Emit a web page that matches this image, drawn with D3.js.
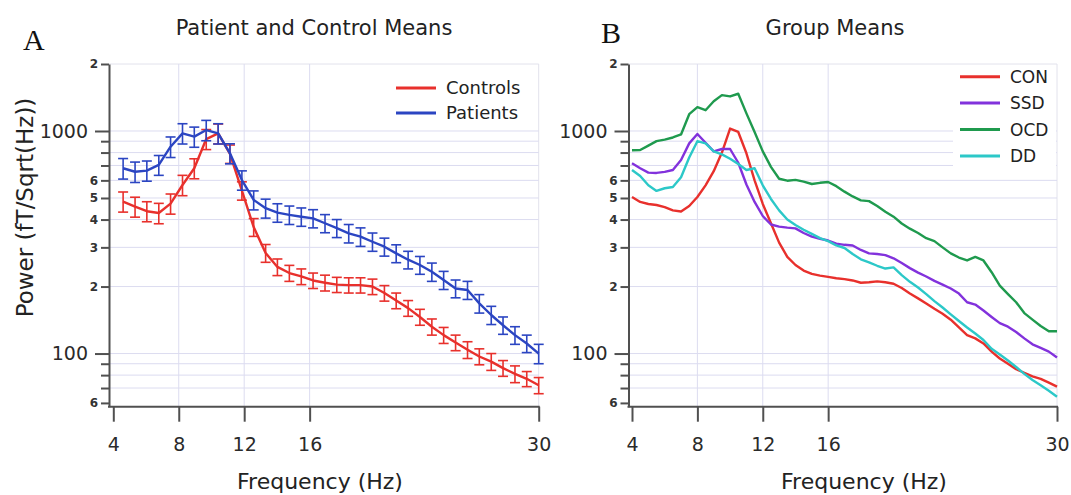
<!DOCTYPE html>
<html>
<head>
<meta charset="utf-8">
<script src="https://cdn.jsdelivr.net/npm/d3@7"></script>
<style>
body { margin: 0; background: #fff; }
svg { display: block; font-family: "DejaVu Sans", sans-serif; }
</style>
</head>
<body>
<svg id="chart" width="1071" height="495"></svg>
<script>
// ---- panel A : patient and control means (with SEM bars)
var freqA = [4.6, 5.33, 6.05, 6.78, 7.5, 8.23, 8.95, 9.68, 10.41, 11.13, 11.86, 12.58,
	13.31, 14.03, 14.76, 15.49, 16.21, 16.94, 17.66, 18.39, 19.11, 19.84, 20.57, 21.29,
	22.02, 22.74, 23.47, 24.19, 24.92, 25.65, 26.37, 27.1, 27.82, 28.55, 29.27, 30.0];
var controlsMean = [482, 457, 436, 428, 472, 572, 680, 920, 975, 790, 540, 370,
	283, 245, 230, 222, 213, 208, 204, 203, 203, 200, 187, 173,
	160, 146, 132, 121, 112, 104, 97, 92, 86, 81, 77, 72];
var controlsErr = [50, 47, 45, 45, 49, 60, 70, 95, 100, 75, 51, 34,
	26, 21, 19, 18, 17, 17, 16, 16, 16, 16, 15, 14,
	13, 12, 11, 10, 9, 9, 8, 8, 7, 7, 6, 6];
var patientsMean = [680, 656, 664, 704, 850, 976, 943, 1010, 976, 794, 602, 490,
	450, 430, 420, 412, 405, 385, 366, 347, 335, 318, 302, 282,
	264, 250, 233, 214, 196, 193, 168, 149, 134, 121, 111, 100];
var patientsErr = [72, 69, 69, 72, 90, 102, 98, 106, 102, 82, 60, 48,
	44, 41, 40, 39, 38, 36, 34, 33, 32, 30, 28, 26,
	24, 23, 22, 20, 18, 18, 16, 14, 12, 11, 10, 10];

// ---- panel B : group means
var freqB = [4, 4.5, 5, 5.5, 6, 6.5, 7, 7.5, 8, 8.5, 9, 9.5, 10, 10.5, 11, 11.5, 12, 12.5,
	13, 13.5, 14, 14.5, 15, 15.5, 16, 16.5, 17, 17.5, 18, 18.5, 19, 19.5, 20, 20.5, 21, 21.5,
	22, 22.5, 23, 23.5, 24, 24.5, 25, 25.5, 26, 26.5, 27, 27.5, 28, 28.5, 29, 29.5, 30];
var conMean = [505, 480, 470, 465, 455, 440, 435, 460, 505, 570, 660, 800, 1025, 990, 794, 600, 470, 385,
	315, 272, 250, 236, 228, 224, 221, 218, 216, 213, 208, 209, 211, 209, 206, 197, 186, 177,
	168, 159, 151, 142, 131, 121, 117, 111, 102, 95, 90, 85, 82, 79, 77, 74, 71];
var ssdMean = [716, 680, 650, 648, 655, 668, 740, 880, 970, 885, 810, 830, 830, 720, 575, 480, 415, 380,
	372, 368, 365, 348, 335, 328, 322, 312, 308, 306, 292, 282, 280, 277, 268, 255, 242, 231,
	222, 212, 204, 196, 186, 170, 166, 156, 146, 137, 132, 125, 117, 110, 106, 102, 96];
var ocdMean = [820, 822, 860, 900, 915, 935, 965, 1190, 1280, 1240, 1360, 1450, 1430, 1470, 1200, 990, 810, 690,
	610, 598, 603, 592, 578, 585, 590, 565, 534, 508, 488, 484, 460, 434, 412, 384, 364, 348,
	330, 320, 300, 282, 270, 262, 272, 262, 232, 202, 185, 170, 152, 142, 133, 126, 126];
var ddMean = [668, 628, 570, 538, 553, 560, 620, 760, 900, 880, 810, 785, 750, 710, 668, 680, 570, 495,
	440, 400, 378, 360, 345, 330, 320, 306, 298, 280, 265, 257, 248, 241, 244, 225, 210, 198,
	185, 172, 161, 150, 140, 131, 123, 115, 105, 99, 93, 87, 81, 76, 72, 68, 64];

// ---- axes
var xTicks = [4, 8, 12, 16, 30];
var xGridTicks = [8, 12, 16];
var yMajorTicks = [100, 1000];
var yMinorTicks = [60, 70, 80, 90, 200, 300, 400, 500, 600, 700, 800, 900, 2000];
var yMinorText = ["6", "", "", "", "2", "3", "4", "5", "6", "", "", "", "2"];
var yGridTicks = [70, 80, 90, 100, 200, 300, 400, 500, 600, 700, 800, 900, 1000];

var svg = d3.select("#chart");
var plotTop = 64, plotBottom = 406.7;
var axisColor = "#505050";

var y = d3.scaleLog().domain([57.7, 2000]).range([plotBottom, plotTop]);

function drawPanel(p) {
	var x = d3.scaleLinear().domain([4, 30]).range([p.x0, p.x1]);
	var g = svg.append("g");

	// faint frame
	g.append("path")
		.attr("d", "M" + p.axisX + "," + plotTop + "H" + p.x1 + "V" + plotBottom)
		.attr("fill", "none").attr("stroke", "#e2e2ec").attr("stroke-width", 1);

	// grid
	g.selectAll(".hgrid").data(yGridTicks).enter().append("line")
		.attr("x1", p.axisX).attr("x2", p.x1)
		.attr("y1", function(d) { return y(d); }).attr("y2", function(d) { return y(d); })
		.attr("stroke", "#dcdcf0").attr("stroke-width", 1);
	g.selectAll(".vgrid").data(xGridTicks).enter().append("line")
		.attr("x1", function(d) { return x(d); }).attr("x2", function(d) { return x(d); })
		.attr("y1", plotTop).attr("y2", plotBottom)
		.attr("stroke", "#dcdcf0").attr("stroke-width", 1);

	// legend background hides the grid
	g.append("rect")
		.attr("x", p.legend.boxX).attr("y", plotTop + 1)
		.attr("width", p.x1 - p.legend.boxX - 1).attr("height", p.legend.boxH)
		.attr("fill", "#fff");

	var line = d3.line()
		.x(function(d) { return x(d[0]); })
		.y(function(d) { return y(d[1]); });

	p.series.forEach(function(s) {
		if (s.err) {
			var eb = g.append("g").attr("stroke", s.color).attr("stroke-width", 1.6);
			s.mean.forEach(function(m, i) {
				var cx = x(p.freq[i]);
				var lo = y(m - s.err[i]), hi = y(m + s.err[i]);
				eb.append("line").attr("x1", cx).attr("x2", cx).attr("y1", lo).attr("y2", hi);
				eb.append("line").attr("x1", cx - 5).attr("x2", cx + 5).attr("y1", lo).attr("y2", lo);
				eb.append("line").attr("x1", cx - 5).attr("x2", cx + 5).attr("y1", hi).attr("y2", hi);
			});
		}
		g.append("path")
			.datum(s.mean.map(function(m, i) { return [p.freq[i], m]; }))
			.attr("d", line)
			.attr("fill", "none").attr("stroke", s.color)
			.attr("stroke-width", 2.4).attr("stroke-linejoin", "round");
	});

	// legend
	p.series.forEach(function(s, i) {
		var ly = p.legend.y0 + i * p.legend.step;
		g.append("line")
			.attr("x1", p.legend.lineX).attr("x2", p.legend.lineX + 40)
			.attr("y1", ly).attr("y2", ly)
			.attr("stroke", s.color).attr("stroke-width", 3);
		g.append("text")
			.attr("x", p.legend.lineX + 50).attr("y", ly)
			.attr("dy", "0.36em")
			.attr("font-size", p.legend.fontSize)
			.attr("fill", "#222")
			.text(s.name);
	});

	// y axis: major ticks
	var yMajor = g.append("g")
		.attr("transform", "translate(" + p.axisX + ",0)")
		.call(d3.axisLeft(y).tickValues(yMajorTicks).tickFormat(d3.format("d"))
			.tickSize(14).tickPadding(7).tickSizeOuter(0));
	yMajor.select(".domain").attr("stroke", axisColor).attr("stroke-width", 2);
	yMajor.selectAll(".tick line").attr("stroke", axisColor).attr("stroke-width", 2);
	yMajor.selectAll(".tick text").attr("font-size", 19).attr("fill", "#2a2a2a")
		.attr("font-family", "DejaVu Sans");

	// y axis: minor ticks
	var yMinor = g.append("g")
		.attr("transform", "translate(" + p.axisX + ",0)")
		.call(d3.axisLeft(y).tickValues(yMinorTicks)
			.tickFormat(function(d, i) { return yMinorText[i]; })
			.tickSize(8).tickPadding(3).tickSizeOuter(0));
	yMinor.select(".domain").remove();
	yMinor.selectAll(".tick line").attr("stroke", axisColor).attr("stroke-width", 2);
	yMinor.selectAll(".tick text").attr("font-size", 12).attr("fill", "#333")
		.attr("font-weight", "bold").attr("font-family", "DejaVu Sans");

	// x axis
	g.append("line")
		.attr("x1", p.axisX - 1).attr("x2", p.x1 + 1)
		.attr("y1", plotBottom).attr("y2", plotBottom)
		.attr("stroke", axisColor).attr("stroke-width", 2);
	var xAxis = g.append("g")
		.attr("transform", "translate(0," + plotBottom + ")")
		.call(d3.axisBottom(x).tickValues(xTicks).tickFormat(d3.format("d"))
			.tickSize(15).tickPadding(16).tickSizeOuter(0));
	xAxis.select(".domain").remove();
	xAxis.selectAll(".tick line").attr("stroke", axisColor).attr("stroke-width", 2);
	xAxis.selectAll(".tick text").attr("font-size", 19).attr("fill", "#2a2a2a")
		.attr("font-family", "DejaVu Sans");

	// titles and labels
	svg.append("text")
		.attr("x", p.titleX).attr("y", 35)
		.attr("text-anchor", "middle")
		.attr("font-size", 21).attr("fill", "#222")
		.text(p.title);
	svg.append("text")
		.attr("x", p.letterX).attr("y", p.letterY)
		.attr("font-family", "Liberation Serif, Times New Roman, serif")
		.attr("font-size", 30).attr("fill", "#111")
		.text(p.letter);
	svg.append("text")
		.attr("x", p.xLabelX).attr("y", 489)
		.attr("text-anchor", "middle")
		.attr("font-size", 22).attr("fill", "#222")
		.text("Frequency (Hz)");
}

drawPanel({
	axisX: 109, x0: 113.3, x1: 538.7,
	freq: freqA,
	series: [
		{ name: "Controls", color: "#e8302c", mean: controlsMean, err: controlsErr },
		{ name: "Patients", color: "#2b45c2", mean: patientsMean, err: patientsErr }
	],
	legend: { boxX: 388, boxH: 60, lineX: 396, y0: 88, step: 25, fontSize: 18 },
	title: "Patient and Control Means", titleX: 314,
	letter: "A", letterX: 23, letterY: 50,
	xLabelX: 320
});

drawPanel({
	axisX: 628.5, x0: 632, x1: 1057,
	freq: freqB,
	series: [
		{ name: "CON", color: "#e8302c", mean: conMean },
		{ name: "SSD", color: "#8232dc", mean: ssdMean },
		{ name: "OCD", color: "#1f9a4e", mean: ocdMean },
		{ name: "DD", color: "#2cc8c8", mean: ddMean }
	],
	legend: { boxX: 953, boxH: 105, lineX: 960, y0: 76.7, step: 26.4, fontSize: 17 },
	title: "Group Means", titleX: 835,
	letter: "B", letterX: 601, letterY: 43,
	xLabelX: 864
});

// y axis label (panel A only)
svg.append("text")
	.attr("transform", "translate(33,207.5) rotate(-90)")
	.attr("text-anchor", "middle")
	.attr("font-size", 23).attr("fill", "#222")
	.text("Power (fT/Sqrt(Hz))");
</script>
</body>
</html>
